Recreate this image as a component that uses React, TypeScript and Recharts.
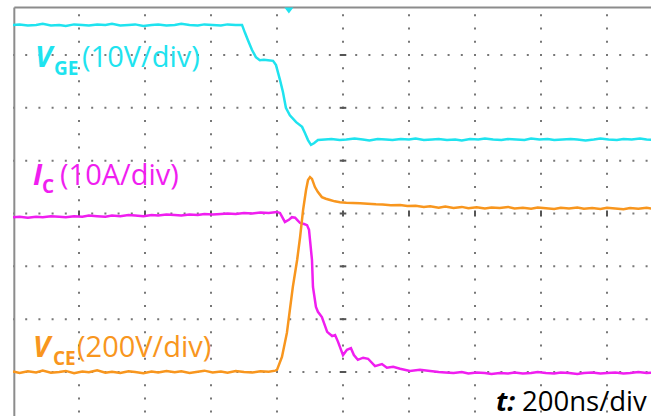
import React from 'react';
import { LineChart, Line, XAxis, YAxis, ReferenceLine, ReferenceDot } from 'recharts';

// Scope screen: 10 x 8 divisions, 200 ns per horizontal division
const TIME_SPAN: [number, number] = [0, 2000];
const DIV_SPAN: [number, number] = [-4, 4];
const X_DIVS = [200, 400, 600, 800, 1000, 1200, 1400, 1600, 1800];
const Y_DIVS = [-3, -2, -1, 0, 1, 2, 3];
const CENTER_TIME = 1000;

// screen frame and trigger marker
const FRAME_LEFT = 4;
const FRAME_TOP = 3.9;
const TRIGGER_TIME = 836;

// channel settings: units per division and ground position (divisions)
const VGE_SCALE = 10;
const VGE_OFFSET = 2.1;
const IC_SCALE = 10;
const IC_OFFSET = -3;
const VCE_SCALE = 200;
const VCE_OFFSET = -3;

const CYAN = '#1fe3ef';
const MAGENTA = '#f01ef0';
const ORANGE = '#f8961e';
const DOT = '#777';
const MARK = '#555';
const FRAME = '#8c8c8c';

// gate-emitter voltage [ns, V]
const VGE: [number, number][] = [
  [0, 14.7], [20, 14.8], [45, 14.6], [70, 14.7], [90, 14.9], [115, 14.6], [140, 14.7], [160, 14.5],
  [185, 14.8], [210, 14.7], [230, 14.6], [255, 14.8], [280, 14.7], [300, 14.9], [325, 14.6], [350, 14.7],
  [370, 14.8], [395, 14.5], [420, 14.7], [440, 14.8], [465, 14.6], [490, 14.7], [510, 14.9], [535, 14.7],
  [560, 14.6], [580, 14.8], [605, 14.7], [630, 14.6], [650, 14.8], [675, 14.7], [694, 14.7],
  [703, 13.2], [712, 11.8], [724, 10.0], [736, 8.6], [748, 8.0], [760, 8.1], [773, 8.0], [788, 7.9],
  [797, 7.1], [809, 4.3], [818, 2.0], [827, -1.0], [839, -2.4], [858, -3.7], [876, -4.6], [885, -5.8],
  [894, -7.1], [903, -8.0], [912, -7.7], [924, -7.1], [945, -7.0],
  [965, -6.9], [990, -7.1], [1010, -7.0], [1035, -6.8], [1060, -7.0], [1080, -7.2], [1105, -6.9],
  [1130, -7.0], [1150, -7.1], [1175, -6.9], [1200, -7.0], [1220, -6.8], [1245, -7.1], [1270, -7.0],
  [1290, -6.9], [1315, -7.1], [1340, -7.0], [1360, -7.2], [1385, -6.9], [1410, -7.0], [1430, -6.8],
  [1455, -7.0], [1480, -7.1], [1500, -6.9], [1525, -7.0], [1550, -7.1], [1570, -6.8], [1595, -7.0],
  [1620, -6.9], [1640, -7.1], [1665, -7.0], [1690, -6.9], [1710, -7.0], [1735, -7.2], [1760, -7.0],
  [1780, -6.8], [1805, -7.0], [1830, -7.1], [1850, -6.9], [1875, -7.0], [1900, -6.8], [1920, -7.0],
  [1945, -7.1], [1970, -6.9], [2000, -7.0],
];

// collector current [ns, A]
const IC: [number, number][] = [
  [0, 29.3], [20, 29.4], [45, 29.2], [70, 29.4], [90, 29.3], [115, 29.5], [140, 29.4], [160, 29.3],
  [185, 29.5], [210, 29.4], [230, 29.6], [255, 29.5], [280, 29.4], [300, 29.6], [325, 29.5], [350, 29.7],
  [370, 29.6], [395, 29.5], [420, 29.7], [440, 29.6], [465, 29.8], [490, 29.7], [510, 29.6], [535, 29.8],
  [560, 29.7], [580, 29.9], [605, 29.8], [630, 29.9], [650, 30.0], [675, 29.9], [700, 30.1], [725, 30.0],
  [750, 30.2], [775, 30.1], [800, 30.3],
  [809, 30.1], [824, 28.4], [836, 28.8], [845, 29.3], [855, 29.2], [861, 28.8], [870, 28.2], [882, 28.0],
  [891, 27.8], [897, 26.9], [900, 25.0], [906, 21.2], [909, 16.1], [918, 12.3], [924, 11.4], [936, 10.4],
  [952, 7.6], [967, 6.8], [976, 7.0], [985, 5.7], [1000, 3.2], [1012, 4.2], [1024, 4.5], [1033, 3.2],
  [1045, 2.3], [1061, 2.7], [1076, 2.5], [1097, 1.1], [1118, 1.5], [1133, 0.8], [1152, 1.0], [1173, 0.6],
  [1203, 0.2], [1233, 0.4], [1264, 0.2],
  [1290, 0.0], [1310, -0.1], [1335, -0.2], [1360, 0.0], [1380, -0.3], [1405, -0.1], [1430, -0.2],
  [1450, -0.4], [1475, -0.2], [1500, -0.3], [1520, -0.1], [1545, -0.3], [1570, -0.2], [1590, 0.0],
  [1615, -0.2], [1640, -0.3], [1660, -0.1], [1685, -0.2], [1710, -0.4], [1730, -0.2], [1755, -0.1],
  [1780, -0.3], [1800, -0.2], [1825, -0.1], [1850, -0.3], [1870, -0.2], [1895, 0.0], [1920, -0.2],
  [1940, -0.1], [1965, -0.3], [2000, -0.2],
];

// collector-emitter voltage [ns, V]
const VCE: [number, number][] = [
  [0, 2], [20, -4], [45, 3], [70, -2], [90, 5], [115, -3], [140, 0], [160, 4], [185, -5], [210, 2],
  [230, -1], [255, 6], [280, -3], [300, 1], [325, -4], [350, 3], [370, 0], [395, -5], [420, 2], [440, -2],
  [465, 4], [490, -1], [510, 3], [535, -4], [560, 1], [580, 5], [605, -2], [630, 2], [650, -3], [675, 4],
  [700, 0], [725, -2], [750, 3], [775, 1], [795, 5],
  [800, 8], [815, 57], [830, 148], [839, 235], [848, 322], [861, 424], [870, 511], [879, 613],
  [888, 689], [894, 727], [900, 738], [906, 731], [915, 700], [924, 681], [936, 662], [948, 656],
  [961, 651], [975, 646], [991, 643], [1010, 641], [1030, 640], [1052, 639],
  [1075, 637], [1100, 635], [1120, 634], [1145, 631], [1173, 632], [1195, 628], [1220, 629],
  [1245, 625], [1264, 627], [1290, 622], [1310, 626], [1335, 621], [1360, 625], [1380, 620],
  [1405, 624], [1430, 619], [1450, 623], [1475, 621], [1500, 625], [1520, 619], [1545, 622],
  [1570, 618], [1590, 623], [1615, 620], [1640, 617], [1660, 622], [1685, 619], [1710, 623],
  [1730, 618], [1755, 621], [1780, 617], [1800, 622], [1825, 619], [1850, 616], [1870, 621],
  [1895, 618], [1920, 622], [1940, 617], [1965, 620], [2000, 618],
];

const toDivs = (trace: [number, number][], scale: number, offset: number) =>
  trace.map(([t, v]) => ({ t, div: v / scale + offset }));

const vgeData = toDivs(VGE, VGE_SCALE, VGE_OFFSET);
const icData = toDivs(IC, IC_SCALE, IC_OFFSET);
const vceData = toDivs(VCE, VCE_SCALE, VCE_OFFSET);

const FONT = "'Open Sans', sans-serif";

function TriggerMarker(props: any) {
  const { cx, cy } = props;
  return <polygon points={`${cx - 4.5},${cy} ${cx + 4.5},${cy} ${cx},${cy + 6}`} fill={CYAN} />;
}

export default function App() {
  return (
    <div
      style={{
        position: 'fixed',
        left: 0,
        top: 0,
        width: 651,
        height: 416,
        overflow: 'hidden',
        background: '#fff',
      }}
    >
      <LineChart width={680} height={430} margin={{ top: 2.2, right: 7, bottom: 5.2, left: 13 }}>
        <XAxis type="number" dataKey="t" domain={TIME_SPAN} allowDataOverflow hide />
        <YAxis type="number" domain={DIV_SPAN} allowDataOverflow hide />

        {/* dotted graticule */}
        {Y_DIVS.map((d) => (
          <ReferenceLine
            key={`row${d}`}
            segment={[{ x: TIME_SPAN[0], y: d }, { x: TIME_SPAN[1], y: d }]}
            stroke={DOT}
            strokeWidth={2}
            strokeDasharray="2 11.2"
            strokeDashoffset={1}
          />
        ))}
        {X_DIVS.map((t) => (
          <ReferenceLine
            key={`col${t}`}
            segment={[{ x: t, y: DIV_SPAN[0] }, { x: t, y: FRAME_TOP }]}
            stroke={DOT}
            strokeWidth={2}
            strokeDasharray="2 11.21"
            strokeDashoffset={1}
          />
        ))}

        {/* tick marks on the centre axes */}
        {Y_DIVS.map((d) => (
          <ReferenceLine
            key={`hm${d}`}
            segment={[{ x: CENTER_TIME - 10, y: d }, { x: CENTER_TIME + 10, y: d }]}
            stroke={MARK}
            strokeWidth={2}
          />
        ))}
        {X_DIVS.map((t) => (
          <ReferenceLine
            key={`vm${t}`}
            segment={[{ x: t, y: -0.055 }, { x: t, y: 0.055 }]}
            stroke={MARK}
            strokeWidth={2}
          />
        ))}

        {/* screen frame */}
        <ReferenceLine
          segment={[{ x: FRAME_LEFT, y: DIV_SPAN[0] }, { x: FRAME_LEFT, y: FRAME_TOP }]}
          stroke={FRAME}
          strokeWidth={2}
        />
        <ReferenceLine
          segment={[{ x: FRAME_LEFT, y: FRAME_TOP }, { x: TIME_SPAN[1], y: FRAME_TOP }]}
          stroke={FRAME}
          strokeWidth={2}
        />
        <ReferenceDot x={TRIGGER_TIME} y={FRAME_TOP} shape={TriggerMarker} />

        <Line data={vgeData} dataKey="div" type="linear" stroke={CYAN} strokeWidth={2.5} dot={false} isAnimationActive={false} />
        <Line data={icData} dataKey="div" type="linear" stroke={MAGENTA} strokeWidth={2.5} dot={false} isAnimationActive={false} />
        <Line data={vceData} dataKey="div" type="linear" stroke={ORANGE} strokeWidth={2.5} dot={false} isAnimationActive={false} />
      </LineChart>

      <svg
        width={651}
        height={416}
        style={{ position: 'absolute', left: 0, top: 0, pointerEvents: 'none' }}
        fontFamily={FONT}
      >
        <g fill={CYAN}>
          <text x={35} y={67} fontSize={29} fontWeight={700} fontStyle="italic">V</text>
          <text x={54} y={75} fontSize={19} fontWeight={700}>GE</text>
          <text x={82} y={67} fontSize={29}>(10V/div)</text>
        </g>
        <g fill={MAGENTA}>
          <text x={33} y={185} fontSize={29} fontWeight={700} fontStyle="italic">I</text>
          <text x={42} y={193} fontSize={19} fontWeight={700}>C</text>
          <text x={60} y={185} fontSize={29}>(10A/div)</text>
        </g>
        <g fill={ORANGE}>
          <text x={33} y={357} fontSize={29} fontWeight={700} fontStyle="italic">V</text>
          <text x={53} y={365} fontSize={19} fontWeight={700}>CE</text>
          <text x={77} y={357} fontSize={29}>(200V/div)</text>
        </g>
        <g fill="#000">
          <text x={496} y={411} fontSize={27.5} fontWeight={700} fontStyle="italic">t:</text>
          <text x={522} y={411} fontSize={27.5}>200ns/div</text>
        </g>
      </svg>
    </div>
  );
}
